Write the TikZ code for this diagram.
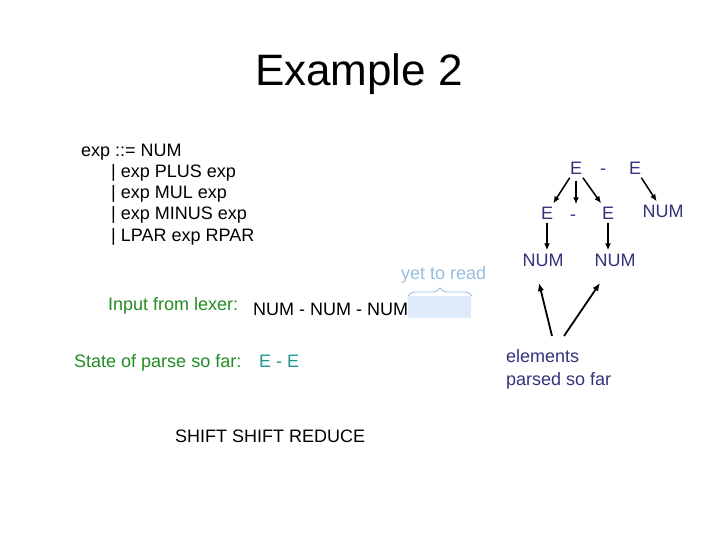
\documentclass[tikz,border=0pt]{standalone}
\usepackage{fontspec}
\setmainfont{Liberation Sans}
\usetikzlibrary{arrows.meta,decorations.pathreplacing,calc}
\definecolor{treeblue}{RGB}{50,50,125}
\definecolor{lexgreen}{RGB}{34,139,34}
\definecolor{tealc}{RGB}{35,150,145}
\definecolor{lightb}{RGB}{150,190,225}
\definecolor{fillb}{RGB}{221,235,250}
\tikzset{
  txt/.style={anchor=base west,inner sep=0pt,font=\fontsize{18}{20}\selectfont},
  tree/.style={inner sep=3pt,text height=13pt,text depth=0pt,text=treeblue,font=\fontsize{18}{20}\selectfont},
  arr/.style={-{Latex[length=7pt,width=6pt]},line width=1.5pt,black},
  arrb/.style={-{Latex[length=8pt,width=6.5pt]},line width=1.8pt,black}
}
\begin{document}
\begin{tikzpicture}[x=1pt,y=-1pt]
\useasboundingbox (0,0) rectangle (720,540);
% title
\node[anchor=base,inner sep=0pt,font=\fontsize{44}{48}\selectfont] (title) at (359,86) {Example 2};
% grammar
\node[txt] (g1) at (81,157) {exp ::= NUM};
\node[txt] (g2) at (111,178) {| exp PLUS exp};
\node[txt] (g3) at (111,199) {| exp MUL exp};
\node[txt] (g4) at (111,220) {| exp MINUS exp};
\node[txt] (g5) at (111,241) {| LPAR exp RPAR};
% tree
\node[tree] (tE) at (576,168) {E};
\node[tree] (tD) at (603,168) {-};
\node[tree] (tE2) at (635,168) {E};
\node[tree] (mE) at (547,213) {E};
\node[tree] (mD) at (573,214) {-};
\node[tree] (mE2) at (608,213) {E};
\node[tree] (mN) at (663,211) {NUM};
\node[tree] (bN1) at (543,260) {NUM};
\node[tree] (bN2) at (615,260) {NUM};
\draw[arr] (tE) -- (mE);
\draw[arr,shorten <=3pt] (tE.south) -- (tE.south |- mD.north);
\draw[arr] (tE) -- (mE2);
\draw[arr] (tE2) -- (mN);
\draw[arr] (mE.south) -- (mE.south |- bN1.north);
\draw[arr] (mE2.south) -- (mE2.south |- bN2.north);
% input
\node[txt,text=lightb] (ytr) at (401,279) {yet to read};
\fill[fillb] (408,296) rectangle (471,318);
\coordinate (brL) at (408,296);
\coordinate (brR) at (472,296);
\draw[lightb,line width=0.8pt,decorate,decoration={brace,amplitude=8pt}] (brL) -- (brR);
\node[txt,text=lexgreen] (inlab) at (108,310) {Input from lexer:};
\node[txt] (input) at (253,315) {NUM - NUM - NUM};
\node[txt,text=lexgreen] (stlab) at (74,367) {State of parse so far:};
\node[txt,text=tealc] (state) at (259,367) {E - E};
\node[txt] (actions) at (175,442) {SHIFT SHIFT REDUCE};
% elements parsed
\node[txt,text=treeblue] (el1) at (506,362) {elements};
\node[txt,text=treeblue] (el2) at (506,385) {parsed so far};
\coordinate (p1) at (552,336);
\coordinate (p2) at (564,336);
\coordinate (h1) at (539,283);
\coordinate (h2) at (600,283);
\draw[arrb] (p1) -- (h1);
\draw[arrb] (p2) -- (h2);
\end{tikzpicture}
\end{document}
